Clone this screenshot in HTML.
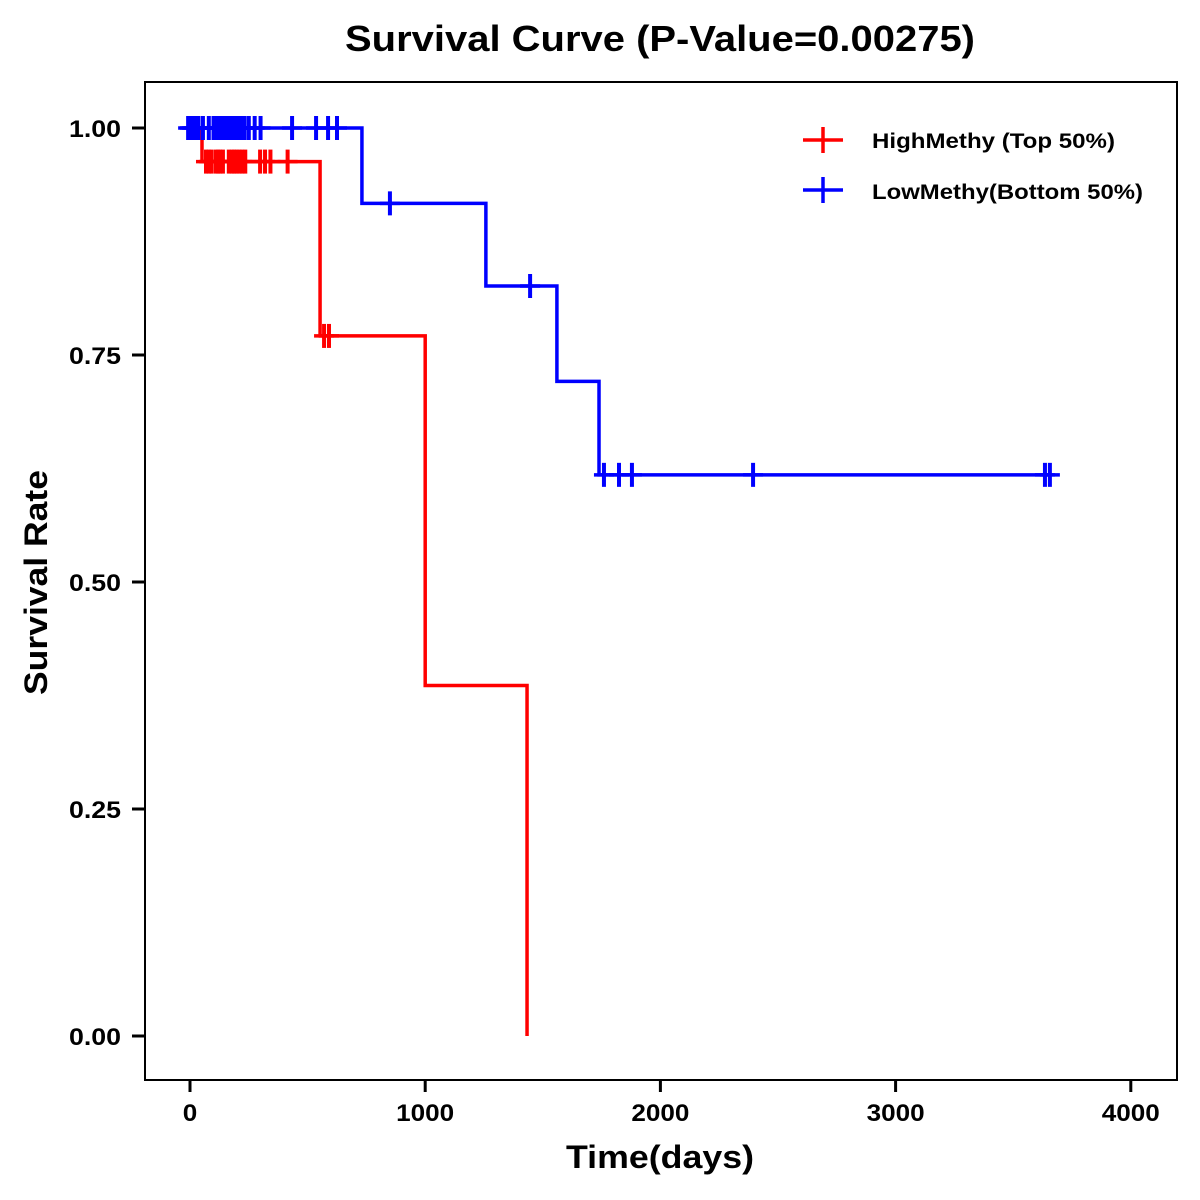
<!DOCTYPE html>
<html><head><meta charset="utf-8"><style>
body{margin:0;background:#fff;}
svg{display:block;font-family:"Liberation Sans",Arial,sans-serif;font-weight:bold;}
</style></head><body>
<svg id="chart" width="1200" height="1200">
<rect x="0" y="0" width="1200" height="1200" fill="#fff"/>
<text x="345" y="51" font-size="36" textLength="630" lengthAdjust="spacingAndGlyphs">Survival Curve (P-Value=0.00275)</text>
<rect x="145" y="82" width="1032" height="998" fill="none" stroke="#000" stroke-width="2"/>
<g id="xaxis"></g>
<g id="yaxis"></g>
<text x="566" y="1168" font-size="32" textLength="188" lengthAdjust="spacingAndGlyphs">Time(days)</text>
<text transform="translate(47,695) rotate(-90)" font-size="32" textLength="225" lengthAdjust="spacingAndGlyphs">Survival Rate</text>
<g id="series"></g>
<g>
<g>
<line x1="803" y1="140" x2="843" y2="140" stroke="#f00" stroke-width="3.5"/><line x1="823" y1="127" x2="823" y2="153" stroke="#f00" stroke-width="3.5"/>
<text x="872" y="148" font-size="21" textLength="243" lengthAdjust="spacingAndGlyphs">HighMethy (Top 50%)</text></g>
<g>
<line x1="803" y1="190" x2="843" y2="190" stroke="#00f" stroke-width="3.5"/><line x1="823" y1="177" x2="823" y2="203" stroke="#00f" stroke-width="3.5"/>
<text x="872" y="199" font-size="21" textLength="271" lengthAdjust="spacingAndGlyphs">LowMethy(Bottom 50%)</text></g>
</g>
</svg>
<script>
const xTicks=[0,1000,2000,3000,4000];
const yTicks=[0,0.25,0.5,0.75,1.0];
const yTickLabels=["0.00","0.25","0.50","0.75","1.00"];
const highTimes=[0,51,553,1000,1433];
const highSurv=[1.0,0.963,0.771,0.386,0.0];
const highCensor=[68,80,92,110,120,128,140,165,178,188,198,210,222,235,298,319,342,415,570,591];
const lowTimes=[0,731,1258,1560,1739];
const lowSurv=[1.0,0.917,0.826,0.721,0.618];
const lowEnd=3656;
const lowCensor=[-8,0,8,15,25,36,55,80,100,112,125,140,150,160,175,185,198,210,222,232,250,275,300,434,536,587,625,850,1446,1760,1824,1879,2394,3635,3656];
const X=t=>190+t*0.2352, Y=s=>1036-s*908;
const NS="http://www.w3.org/2000/svg";
function mk(tag,attrs,parent){const e=document.createElementNS(NS,tag);for(const k in attrs)e.setAttribute(k,attrs[k]);parent.appendChild(e);return e;}
const xa=document.getElementById('xaxis'),ya=document.getElementById('yaxis'),sg=document.getElementById('series');
xTicks.forEach(t=>{
 const l=mk('line',{x1:X(t),x2:X(t),y1:1080,y2:1092,stroke:'#000','stroke-width':3},xa);
 
 
 const w=String(t).length*14.5;
 const tx=mk('text',{x:X(t)-w/2,y:1121,'font-size':24,textLength:w,lengthAdjust:'spacingAndGlyphs'},xa);tx.textContent=t;
 
 
});
yTicks.forEach((s,i)=>{
 const l=mk('line',{x1:132,x2:145,y1:Y(s),y2:Y(s),stroke:'#000','stroke-width':3},ya);
 
 
 const tx=mk('text',{x:69,y:Y(s)+9,'font-size':24,textLength:52,lengthAdjust:'spacingAndGlyphs'},ya);tx.textContent=yTickLabels[i];
 
 
});
function survAt(times,surv,t){let s=surv[0];for(let i=0;i<times.length;i++)if(t>=times[i])s=surv[i];return s;}
function drawSeries(times,surv,end,censor,color,name){
 let d='M'+X(times[0])+','+Y(surv[0]);
 for(let i=1;i<times.length;i++){d+=' H'+X(times[i])+' V'+Y(surv[i]);}
 d+=' H'+X(end);
 const p=mk('path',{d:d,fill:'none',stroke:color,'stroke-width':3.5},sg);
 
 
 censor.forEach(c=>{
  const s=survAt(times,surv,c);
  const g=mk('g',{},sg);
  
  
  mk('line',{x1:X(c)-10,x2:X(c)+10,y1:Y(s),y2:Y(s),stroke:color,'stroke-width':3.5},g);
  mk('line',{x1:X(c),x2:X(c),y1:Y(s)-12,y2:Y(s)+12,stroke:color,'stroke-width':4},g);
 });
}
drawSeries(highTimes,highSurv,highTimes[highTimes.length-1],highCensor,'#f00','high-methy');
drawSeries(lowTimes,lowSurv,lowEnd,lowCensor,'#00f','low-methy');
</script>
</body></html>
